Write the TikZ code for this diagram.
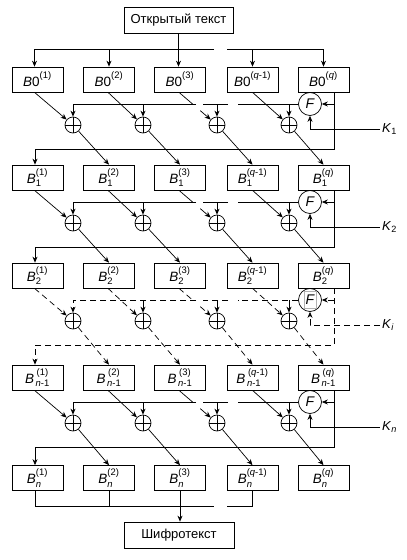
\documentclass[tikz,border=0pt]{standalone}
\usepackage{fontspec}
\usepackage{amsmath}
\setmainfont{Liberation Sans}
\usetikzlibrary{arrows.meta,calc}

\tikzset{
  ln/.style={line width=0.7pt},
  arr/.style={ln, -{Stealth[length=6pt,width=5pt]}},
  dsh/.style={dash pattern=on 6pt off 4pt},
  blk/.style={draw, line width=0.7pt, minimum width=51pt, minimum height=25pt, inner sep=0pt, font=\fontsize{13.5}{15}\selectfont},
  ttl/.style={draw, line width=0.7pt, minimum width=109pt, minimum height=26pt, inner sep=0pt, font=\fontsize{13}{15}\selectfont},
  xorn/.style={draw, line width=0.7pt, circle, minimum size=16pt, inner sep=0pt,
    path picture={\draw[line width=0.7pt] (path picture bounding box.north) -- (path picture bounding box.south)
      (path picture bounding box.west) -- (path picture bounding box.east);}},
  fn/.style={draw, line width=0.7pt, circle, minimum size=23pt, inner sep=0pt, font=\fontsize{14}{16}\selectfont\itshape},
  klab/.style={anchor=west, inner sep=2pt, font=\fontsize{13}{15}\selectfont},
}

\newcommand\myBz[1]{$\text{\textit{B}0}^{\text{\raisebox{2pt}{#1}}}$}
\newcommand\myBs[2]{$\text{\textit{B}}_{\text{#1}}^{\text{\raisebox{2pt}{#2}}}$}
\newcommand\myBm[1]{$\text{\textit{B}}_{\,\text{\textit{n}-1}}^{\;\text{\raisebox{2pt}{#1}}}$}
\newcommand\myK[1]{$\text{\textit{K}}_{\text{#1}}$}

% #1 row, #2 next row, #3 top y, #4 line style, #5 key label
\newcommand\mystage[5]{%
  \node[fn] (f#1) at (310,#3+37) {F};
  \node[xorn] (x#1c1) at (73,#3+58) {};
  \node[xorn] (x#1c2) at (143,#3+58) {};
  \node[xorn] (x#1c3) at (217,#3+58) {};
  \node[xorn] (x#1c4) at (289,#3+58) {};
  % horizontal line from F to the XORs
  \coordinate (ha#1) at (238,#3+37);
  \coordinate (hb#1) at (228,#3+37);
  \coordinate (hc#1) at (203,#3+37);
  \coordinate (hd#1) at (196,#3+37);
  \draw[ln,#4] (f#1.west) -- (ha#1);
  \draw[ln,#4] (hb#1) -- (hc#1);
  \draw[arr,#4] (hd#1) -| (x#1c1);
  \draw[arr] (x#1c2 |- ha#1) -- (x#1c2);
  \draw[arr] (x#1c3 |- ha#1) -- (x#1c3);
  \draw[arr] (x#1c4 |- ha#1) -- (x#1c4);
  % right vertical and return line
  \coordinate (rv#1) at (334,#3+25);
  \coordinate (rr#1) at (334,#3+82);
  \draw[arr,#4] (rv#1) -- (rr#1) -| ([xshift=-2.5pt]b#2c1.north);
  \draw[arr,#4] (rv#1 |- f#1) -- (f#1.east);
  % key input
  \coordinate (k#1) at (380,#3+62);
  \draw[arr,#4] (k#1) -| (f#1.south);
  \node[klab] (kl#1) at (k#1) {#5};
  % diagonals into the XORs
  \draw[arr,#4] ([xshift=-3pt]b#1c1.south) -- (x#1c1);
  \draw[arr,#4] ([xshift=-1pt]b#1c2.south) -- (x#1c2);
  \draw[arr,#4] ([xshift=0pt]b#1c4.south) -- (x#1c4);
  \coordinate (s#1) at ([xshift=-1pt]b#1c3.south);
  \draw[ln,#4] (s#1) -- ($(s#1)!0.36!(x#1c3)$);
  \draw[arr,#4] ($(s#1)!0.56!(x#1c3)$) -- (x#1c3);
  % diagonals out of the XORs
  \draw[arr,#4] (x#1c1) -- (b#2c2.north);
  \draw[arr,#4] (x#1c2) -- (b#2c3.north);
  \draw[arr,#4] (x#1c3) -- (b#2c4.north);
  \draw[arr,#4] (x#1c4) -- (b#2c5.north);
}

\begin{document}
\begin{tikzpicture}[x=1pt,y=-1pt]
\useasboundingbox (0,0) rectangle (407,560);

\node[ttl] (pt) at (178.5,20) {Открытый текст};
\node[ttl, minimum width=110pt] (ct) at (179,535) {Шифротекст};

% row 0
\node[blk] (b0c1) at (37.5,79.5) {\myBz{(1)}};
\node[blk] (b0c2) at (109,79.5) {\myBz{(2)}};
\node[blk] (b0c3) at (180,79.5) {\myBz{(3)}};
\node[blk] (b0c4) at (252.5,79.5) {\myBz{(\textit{q}-1)}};
\node[blk] (b0c5) at (323.5,79.5) {\myBz{(\textit{q})}};
% row 1
\node[blk] (b1c1) at (37.5,177.5) {\myBs{1}{(1)}};
\node[blk] (b1c2) at (109,177.5) {\myBs{1}{(2)}};
\node[blk] (b1c3) at (180,177.5) {\myBs{1}{(3)}};
\node[blk] (b1c4) at (252.5,177.5) {\myBs{1}{(\textit{q}-1)}};
\node[blk] (b1c5) at (323.5,177.5) {\myBs{1}{(\textit{q})}};
% row 2
\node[blk] (b2c1) at (37.5,275.5) {\myBs{2}{(1)}};
\node[blk] (b2c2) at (109,275.5) {\myBs{2}{(2)}};
\node[blk] (b2c3) at (180,275.5) {\myBs{2}{(3)}};
\node[blk] (b2c4) at (252.5,275.5) {\myBs{2}{(\textit{q}-1)}};
\node[blk] (b2c5) at (323.5,275.5) {\myBs{2}{(\textit{q})}};
% row n-1
\node[blk] (b3c1) at (37.5,377.5) {\myBm{(1)}};
\node[blk] (b3c2) at (109,377.5) {\myBm{(2)}};
\node[blk] (b3c3) at (180,377.5) {\myBm{(3)}};
\node[blk] (b3c4) at (252.5,377.5) {\myBm{(\textit{q}-1)}};
\node[blk] (b3c5) at (323.5,377.5) {\myBm{(\textit{q})}};
% row n
\node[blk] (b4c1) at (37.5,478) {\myBs{\textit{n}}{(1)}};
\node[blk] (b4c2) at (109,478) {\myBs{\textit{n}}{(2)}};
\node[blk] (b4c3) at (180,478) {\myBs{\textit{n}}{(3)}};
\node[blk] (b4c4) at (252.5,478) {\myBs{\textit{n}}{(\textit{q}-1)}};
\node[blk] (b4c5) at (323.5,478) {\myBs{\textit{n}}{(\textit{q})}};

% distribution of the plaintext
\coordinate (tl) at (214,49);
\coordinate (tr) at (227,49);
\draw[arr] (pt.south) -- (pt.south |- b0c3.north);
\draw[arr] (tl) -| ([xshift=-3pt]b0c1.north);
\draw[arr] (b0c2.north |- tl) -- (b0c2.north);
\draw[arr] (tr) -| (b0c5.north);
\draw[arr] (b0c4.north |- tr) -- (b0c4.north);

% stages
\mystage{0}{1}{67}{solid}{\myK{1}}
\mystage{1}{2}{165}{solid}{\myK{2}}
\mystage{2}{3}{263}{dsh}{\myK{\textit{i}}}
\mystage{3}{4}{365}{solid}{\myK{\textit{n}}}
\draw[gray!60, line width=0.4pt] ([xshift=-6pt,yshift=-8.5pt]f2.center) rectangle ([xshift=6pt,yshift=8.5pt]f2.center);

% collection into the ciphertext
\coordinate (bl) at (214,506);
\coordinate (br) at (227,506);
\draw[ln] ([xshift=-2.5pt]b4c1.south) |- (bl);
\draw[ln] (b4c2.south) -- (b4c2.south |- bl);
\draw[ln] (b4c4.south) |- (br);
\draw[arr] (b4c3.south) -- (b4c3.south |- ct.north);
\end{tikzpicture}
\end{document}
